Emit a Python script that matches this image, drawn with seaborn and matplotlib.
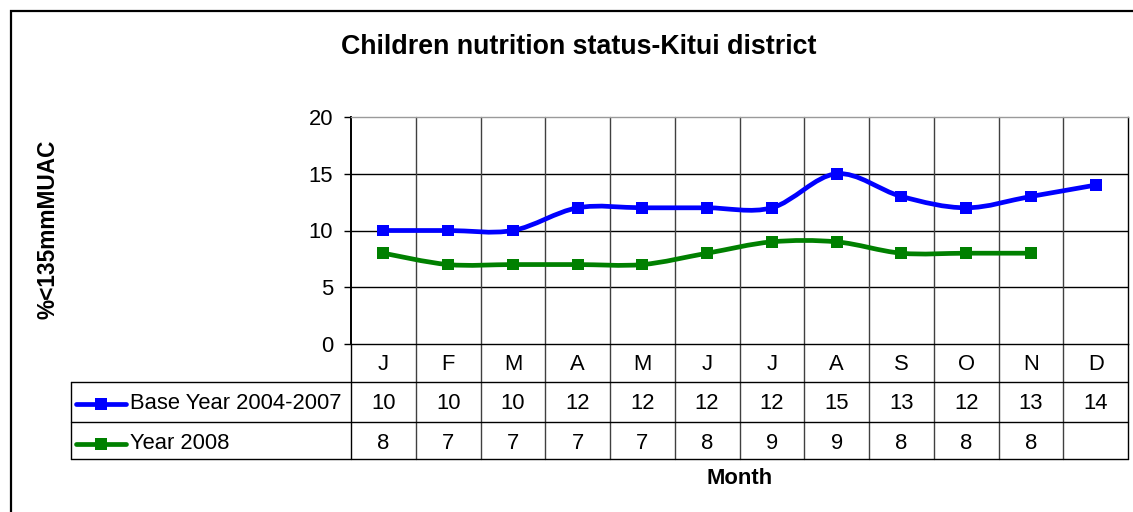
import numpy as np
import pandas as pd
import matplotlib.pyplot as plt
from matplotlib.path import Path
from matplotlib.patches import PathPatch, Rectangle
import seaborn as sns

# Chart data
months = ["J", "F", "M", "A", "M", "J", "J", "A", "S", "O", "N", "D"]
base_label = "Base Year 2004-2007"
year_label = "Year 2008"
base_vals = [10, 10, 10, 12, 12, 12, 12, 15, 13, 12, 13, 14]
year_vals = [8, 7, 7, 7, 7, 8, 9, 9, 8, 8, 8, None]
series_colors = {base_label: "#0000FF", year_label: "#008000"}

# Long-form table for seaborn
rows = []
for name, vals in [(base_label, base_vals), (year_label, year_vals)]:
    for i, v in enumerate(vals):
        if v is not None:
            rows.append({"pos": i, "value": v, "series": name})
df = pd.DataFrame(rows)

sns.set_style("white")
plt.rcParams["font.family"] = ["Liberation Sans", "DejaVu Sans"]
plt.rcParams["text.color"] = "black"
plt.rcParams["ytick.color"] = "black"
plt.rcParams["ytick.labelcolor"] = "black"
FS = 15.8

W, H = 1133, 512
fig = plt.figure(figsize=(W / 100, H / 100), dpi=100)
# plot area in pixels: x 351..1128, y 117..344
ax = fig.add_axes([351 / W, 1 - 344 / H, 777 / W, 227 / H])


def smooth_path(xs, ys):
    # Excel-like smoothed line (Catmull-Rom as cubic Bezier)
    pts = np.column_stack([xs, ys]).astype(float)
    n = len(pts)
    verts, codes = [pts[0]], [Path.MOVETO]
    for i in range(n - 1):
        p0 = pts[max(i - 1, 0)]
        p1 = pts[i]
        p2 = pts[i + 1]
        p3 = pts[min(i + 2, n - 1)]
        verts += [p1 + (p2 - p0) / 6, p2 - (p3 - p1) / 6, p2]
        codes += [Path.CURVE4] * 3
    return Path(verts, codes)


for name, color in series_colors.items():
    sub = df[df["series"] == name]
    ax.add_patch(PathPatch(smooth_path(sub["pos"], sub["value"]), fill=False,
                           edgecolor=color, lw=3.4, capstyle="round", zorder=3))

sns.scatterplot(data=df, x="pos", y="value", hue="series", palette=series_colors,
                marker="s", s=72, linewidth=0, legend=False, ax=ax, zorder=4)

ax.set_xlim(-0.5, len(months) - 0.5)
ax.set_ylim(0, 20)
ax.set_yticks([0, 5, 10, 15, 20])
ax.set_xticks([])
ax.set_xlabel("")
ax.set_ylabel("")
ax.tick_params(axis="y", direction="out", length=5, width=1, color="black",
               labelsize=FS, labelcolor="black", pad=8, left=True)
for v in [5, 10, 15]:
    ax.axhline(v, color="black", lw=1, zorder=1)
for s in ax.spines.values():
    s.set_color("black")
    s.set_linewidth(1)
ax.spines["top"].set_color("#9a9a9a")
ax.spines["left"].set_linewidth(1.4)

# data table below the plot
xt = ax.get_xaxis_transform()
y_rows = [-0.1674, -0.3436, -0.5066]
y_text = [-0.09, -0.264, -0.44]
left_col = -0.3604
for y in y_rows:
    ax.plot([left_col, 1], [y, y], transform=ax.transAxes, color="black",
            lw=1, clip_on=False)
ax.plot([left_col, left_col], [y_rows[0], y_rows[2]], transform=ax.transAxes,
        color="black", lw=1, clip_on=False)
ax.plot([0, 0], [0, y_rows[2]], transform=ax.transAxes, color="black", lw=1,
        clip_on=False)
ax.plot([1, 1], [0, y_rows[2]], transform=ax.transAxes, color="black", lw=1,
        clip_on=False)
for i in range(len(months) - 1):
    ax.plot([i + 0.5, i + 0.5], [1, y_rows[2]], transform=xt, color="#404040",
            lw=1, clip_on=False, zorder=1)

for i, m in enumerate(months):
    ax.text(i, y_text[0], m, transform=xt, ha="center", va="center", fontsize=FS)
for i, v in enumerate(base_vals):
    ax.text(i, y_text[1], str(v), transform=xt, ha="center", va="center", fontsize=FS)
for i, v in enumerate(year_vals):
    if v is not None:
        ax.text(i, y_text[2], str(v), transform=xt, ha="center", va="center", fontsize=FS)

# legend keys inside the table
for (name, color), yc in zip(series_colors.items(), y_text[1:]):
    ax.plot([-0.354, -0.2896], [yc, yc], transform=ax.transAxes, color=color,
            lw=3.4, solid_capstyle="round", clip_on=False)
    ax.plot([-0.322], [yc], transform=ax.transAxes, color=color, marker="s",
            ms=8, mew=0, clip_on=False)
    ax.text(-0.2844, yc, name, transform=ax.transAxes, ha="left", va="center",
            fontsize=FS)

# titles
fig.text(579 / W, 1 - 47 / H, "Children nutrition status-Kitui district",
         ha="center", va="center", fontsize=19.3, fontweight="bold")
fig.text(48 / W, 1 - 229 / H, "%<135mmMUAC", rotation=90, ha="center",
         va="center", fontsize=16.3, fontweight="bold")
fig.text(740 / W, 1 - 479 / H, "Month", ha="center", va="center",
         fontsize=FS, fontweight="bold")

# outer chart border
fig.patches.append(Rectangle((11 / W, -0.05), 1.2, 1 - 11 / H + 0.05,
                             transform=fig.transFigure, fill=False,
                             edgecolor="black", lw=1.6))

fig.savefig("out.png", dpi=100)
